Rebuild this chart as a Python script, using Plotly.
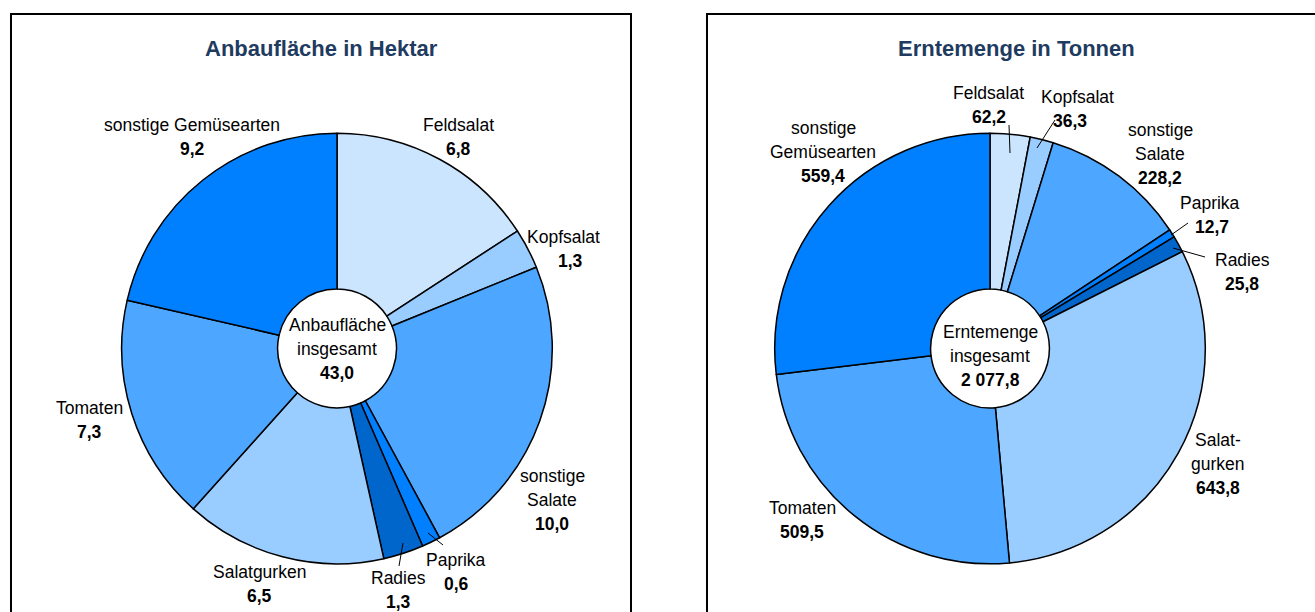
import plotly.graph_objects as go

W, H = 1315, 612

# ---- data ----
categories = ["Feldsalat", "Kopfsalat", "sonstige Salate", "Paprika", "Radies",
              "Salatgurken", "Tomaten", "sonstige Gemüsearten"]
area_ha = [6.8, 1.3, 10.0, 0.6, 1.3, 6.5, 7.3, 9.2]
harvest_t = [62.2, 36.3, 228.2, 12.7, 25.8, 643.8, 509.5, 559.4]
area_total = "43,0"
harvest_total = "2 077,8"

area_label_lines = [["Feldsalat"], ["Kopfsalat"], ["sonstige", "Salate"], ["Paprika"],
                    ["Radies"], ["Salatgurken"], ["Tomaten"], ["sonstige Gemüsearten"]]
harvest_label_lines = [["Feldsalat"], ["Kopfsalat"], ["sonstige", "Salate"], ["Paprika"],
                       ["Radies"], ["Salat-", "gurken"], ["Tomaten"], ["sonstige", "Gemüsearten"]]

colors = ["#CCE5FF", "#99CCFF", "#4DA6FF", "#0080FF", "#0066CC",
          "#99CCFF", "#4DA6FF", "#0080FF"]

FONT = "Liberation Sans, Arial, sans-serif"
TITLE_COLOR = "#1F3B60"
LABEL_SIZE = 17.5


def fmt(v):
    return f"{v:.1f}".replace(".", ",")


def px(x):
    return x / W


def py(y):
    return (H - y) / H


fig = go.Figure()

pies = [
    dict(vals=area_ha, cx=337.0, cy=348.5, r=215.3),
    dict(vals=harvest_t, cx=990.0, cy=348.5, r=215.3),
]
for p in pies:
    fig.add_trace(go.Pie(
        labels=categories, values=p["vals"], sort=False, direction="clockwise",
        rotation=0, hole=0.276,
        marker=dict(colors=colors, line=dict(color="black", width=1.5)),
        textinfo="none", hoverinfo="label+value", showlegend=False,
        domain=dict(x=[px(p["cx"] - p["r"]), px(p["cx"] + p["r"])],
                    y=[py(p["cy"] + p["r"]), py(p["cy"] - p["r"])]),
    ))

annotations = []
shapes = []

LINE_H = 24


def add_label(x, y, lines, value, x_val=None):
    for i, ln in enumerate(lines):
        annotations.append(dict(x=px(x), y=py(y + i * LINE_H), xref="paper", yref="paper",
                                text=ln, showarrow=False, xanchor="center", yanchor="middle",
                                font=dict(family=FONT, size=LABEL_SIZE, color="black")))
    xv = x if x_val is None else x_val
    annotations.append(dict(x=px(xv), y=py(y + len(lines) * LINE_H), xref="paper", yref="paper",
                            text=f"<b>{value}</b>", showarrow=False, xanchor="center",
                            yanchor="middle",
                            font=dict(family=FONT, size=LABEL_SIZE, color="black")))


# label positions (x center, y of first line) for each category
area_pos = [(458, 125), (563, 237), (552, 476), (456, 560), (398, 578),
            (259, 572), (89, 408), (192, 125)]
area_val_x = [None, 570, None, None, None, None, None, None]
harvest_pos = [(989, 93), (1077, 97), (1160, 130), (1210, 203), (1242, 260),
               (1218, 440), (802, 508), (823, 128)]
harvest_val_x = [None, 1070, None, 1212, None, None, None, None]

for i in range(len(categories)):
    add_label(area_pos[i][0], area_pos[i][1], area_label_lines[i], fmt(area_ha[i]), area_val_x[i])
    add_label(harvest_pos[i][0], harvest_pos[i][1], harvest_label_lines[i], fmt(harvest_t[i]),
              harvest_val_x[i])

# center labels
add_label(337, 325, ["Anbaufläche", "insgesamt"], area_total)
add_label(990, 332, ["Erntemenge", "insgesamt"], harvest_total)

# titles
for tx, ttext in [(321, "Anbaufläche in Hektar"), (1016, "Erntemenge in Tonnen")]:
    annotations.append(dict(x=px(tx), y=py(48), xref="paper", yref="paper",
                            text=f"<b>{ttext}</b>", showarrow=False,
                            xanchor="center", yanchor="middle",
                            font=dict(family=FONT, size=22, color=TITLE_COLOR)))

# frames
shapes.append(dict(type="rect", xref="paper", yref="paper", x0=px(11), x1=px(631),
                   y0=py(640), y1=py(14), line=dict(color="black", width=2)))
shapes.append(dict(type="rect", xref="paper", yref="paper", x0=px(707), x1=px(1340),
                   y0=py(640), y1=py(14), line=dict(color="black", width=2)))

# leader lines
leaders = [
    ((428, 533), (443, 545)),   # Paprika left
    ((403, 543), (399, 566)),   # Radies left
    ((1009, 125), (1010, 153)), # Feldsalat right
    ((1055, 120), (1037, 148)), # Kopfsalat right
    ((1188, 223), (1171, 235)), # Paprika right
    ((1205, 257), (1173, 248)), # Radies right
]
for (x0, y0), (x1, y1) in leaders:
    shapes.append(dict(type="line", xref="paper", yref="paper", x0=px(x0), y0=py(y0),
                       x1=px(x1), y1=py(y1), line=dict(color="black", width=1)))

fig.update_layout(
    width=W, height=H, margin=dict(l=0, r=0, t=0, b=0),
    paper_bgcolor="white", plot_bgcolor="white",
    annotations=annotations, shapes=shapes,
)

fig.write_html("out.html", config={"displayModeBar": False},
               post_script="document.body.style.margin='0';document.body.style.overflow='hidden';")
